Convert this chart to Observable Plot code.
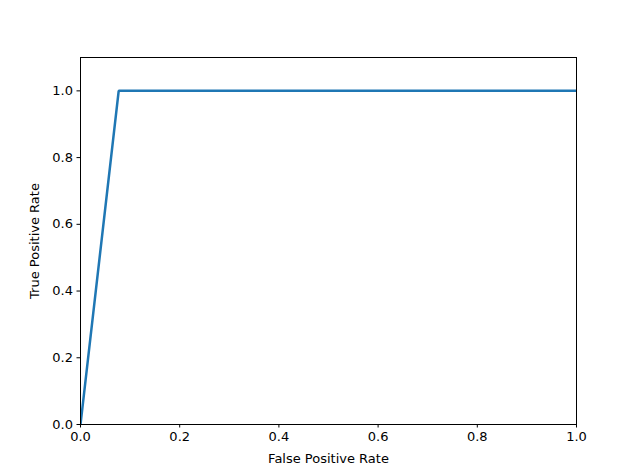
<!DOCTYPE html>
<html>
<head>
<meta charset="utf-8">
<script src="https://cdn.jsdelivr.net/npm/d3@7"></script>
<script src="https://cdn.jsdelivr.net/npm/@observablehq/plot@0.6"></script>
<style>
  html, body { margin: 0; padding: 0; background: #fff; }
  svg { display: block; }
</style>
</head>
<body>
<div id="chart"></div>
<script>
const fpr = [0.0, 0.077, 1.0];
const tpr = [0.0, 1.0, 1.0];
const xTicks = [0, 0.2, 0.4, 0.6, 0.8, 1.0];
const yTicks = [0, 0.2, 0.4, 0.6, 0.8, 1.0];

const data = fpr.map((f, i) => ({fpr: f, tpr: tpr[i]}));

const chart = Plot.plot({
  width: 640,
  height: 476,
  marginLeft: 80,
  marginRight: 64,
  marginTop: 57,
  marginBottom: 52,
  style: {fontFamily: "DejaVu Sans", fontSize: "13px", color: "#000", background: "#fff"},
  x: {domain: [0, 1]},
  y: {domain: [0, 1.1]},
  marks: [
    Plot.line(data, {x: "fpr", y: "tpr", stroke: "#1f77b4", strokeWidth: 2.5, strokeLinejoin: "miter", strokeLinecap: "butt", clip: true}),
    Plot.frame({stroke: "#000", strokeWidth: 1}),
    Plot.axisX({ticks: xTicks, tickFormat: d3.format(".1f"), tickSize: 3.5, tickPadding: 4, label: "False Positive Rate", labelAnchor: "center", labelArrow: "none", labelOffset: 38}),
    Plot.axisY({ticks: yTicks, tickFormat: d3.format(".1f"), tickSize: 3.5, tickPadding: 4, label: "True Positive Rate", labelAnchor: "center", labelArrow: "none", labelOffset: 51})
  ]
});
document.getElementById("chart").appendChild(chart);
</script>
</body>
</html>
